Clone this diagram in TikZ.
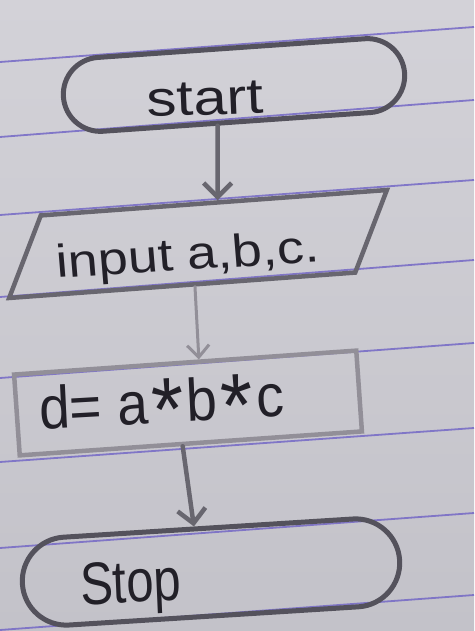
\documentclass[tikz,border=0pt]{standalone}
\usepackage{fontspec}
\usepackage{graphicx}
\setmainfont{Liberation Sans}
\usetikzlibrary{shapes.misc,shapes.geometric,arrows.meta}
\definecolor{papertop}{HTML}{D3D2D8}
\definecolor{paperbot}{HTML}{C3C2C9}
\definecolor{ruling}{HTML}{7468C6}
\definecolor{pencildark}{HTML}{54525C}
\definecolor{pencilmid}{HTML}{68666F}
\definecolor{pencilsilver}{HTML}{928F98}
\definecolor{ink}{HTML}{222028}
\newcommand\bigast{\kern0.06em\raisebox{-0.3em}{\scalebox{1.5}{*}}\kern0.06em}
\begin{document}
\begin{tikzpicture}[x=1pt,y=-1pt,
  rule/.style={draw=ruling, line width=1.8pt, opacity=0.85},
  term/.style={rounded rectangle, draw=pencildark, line width=5pt, inner sep=0pt},
  io/.style={rectangle, draw=pencilmid, line width=4.5pt, inner sep=0pt},
  proc/.style={rectangle, draw=pencilsilver, line width=4.5pt, inner sep=0pt},
  lbl/.style={text=ink, inner sep=0pt},
  flow/.style={draw=pencilmid, line width=4.5pt, line cap=round,
               -{Straight Barb[length=14pt,width=28pt]}},
  faint/.style={draw=pencilsilver, line width=3pt, line cap=round,
               -{Straight Barb[length=12pt,width=22pt]}}
]
\useasboundingbox (0,0) rectangle (474,631);
\shade[top color=papertop, bottom color=paperbot] (0,0) rectangle (474,631);
\foreach \yl/\yr in {62/27,137/100,215/180,297/260,378/343,462/428,548/513,630/595}
  \draw[rule] (0,\yl) -- (474,\yr);

% shapes
\node[term, minimum width=342pt, minimum height=74pt, rotate=4] (start) at (234,85) {};
\node[io, minimum width=347pt, minimum height=80pt, rotate=4.2, xslant=0.47] (in) at (198,244) {};
\node[proc, minimum width=343pt, minimum height=81pt, rotate=4] (proc) at (188,403) {};
\node[term, minimum width=378pt, minimum height=88pt, rotate=3.6] (stop) at (211,572) {};

% texts
\node[lbl, font=\fontsize{50}{50}\selectfont, xscale=1.2, rotate=2] (tstart) at (205,99) {start};
\node[lbl, font=\fontsize{46}{46}\selectfont, xscale=1.17, rotate=4] (tin) at (188,258) {input a,b,c.};
\node[lbl, font=\fontsize{60}{60}\selectfont, xscale=0.92, rotate=3] (tproc) at (162,410) {d= a\bigast b\bigast c};
\node[lbl, font=\fontsize{60}{60}\selectfont, xscale=0.82, rotate=3] (tstop) at (131,588) {Stop};

% connectors
\draw[flow] (start.-116) -- (in.86);
\draw[faint] (in.-72) -- (proc.72);
\draw[flow] (proc.-101) -- (stop.107);
\end{tikzpicture}
\end{document}
